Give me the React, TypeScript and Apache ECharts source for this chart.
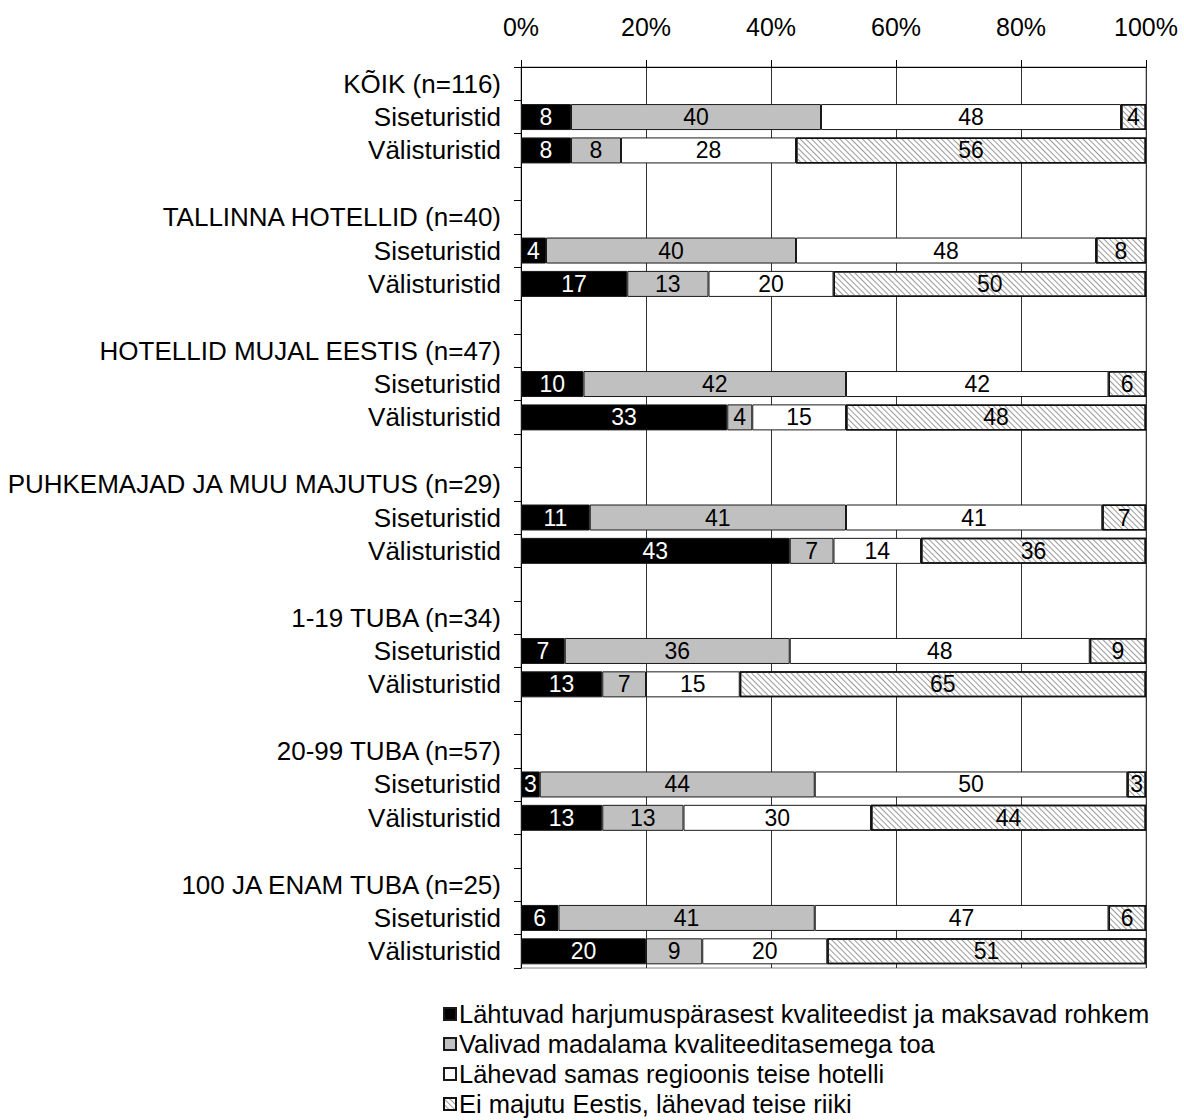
import React, { useEffect, useRef } from "react";
import * as echarts from "echarts";

const categories = [
  "KÕIK (n=116)", "Siseturistid", "Välisturistid", "",
  "TALLINNA HOTELLID (n=40)", "Siseturistid", "Välisturistid", "",
  "HOTELLID MUJAL EESTIS (n=47)", "Siseturistid", "Välisturistid", "",
  "PUHKEMAJAD JA MUU MAJUTUS (n=29)", "Siseturistid", "Välisturistid", "",
  "1-19 TUBA (n=34)", "Siseturistid", "Välisturistid", "",
  "20-99 TUBA (n=57)", "Siseturistid", "Välisturistid", "",
  "100 JA ENAM TUBA (n=25)", "Siseturistid", "Välisturistid",
];

const seriesNames = [
  "Lähtuvad harjumuspärasest kvaliteedist ja maksavad rohkem",
  "Valivad madalama kvaliteeditasemega toa",
  "Lähevad samas regioonis teise hotelli",
  "Ei majutu Eestis, lähevad teise riiki",
];

const N = null;
const rohkem = [N, 8, 8, N, N, 4, 17, N, N, 10, 33, N, N, 11, 43, N, N, 7, 13, N, N, 3, 13, N, N, 6, 20];
const madalam = [N, 40, 8, N, N, 40, 13, N, N, 42, 4, N, N, 41, 7, N, N, 36, 7, N, N, 44, 13, N, N, 41, 9];
const samas = [N, 48, 28, N, N, 48, 20, N, N, 42, 15, N, N, 41, 14, N, N, 48, 15, N, N, 50, 30, N, N, 47, 20];
const valismaa = [N, 4, 56, N, N, 8, 50, N, N, 6, 48, N, N, 7, 36, N, N, 9, 65, N, N, 3, 44, N, N, 6, 51];

const xTicks = [0, 20, 40, 60, 80, 100];

const FONT = "'Liberation Sans', Arial, sans-serif";
const FS = 26;
const BAR_FS = 23;

export default function App() {
  const ref = useRef<HTMLDivElement>(null);
  useEffect(() => {
    const chart = echarts.init(ref.current!, null, { renderer: "svg" });
    const mk = (name: string, data: (number | null)[], color: string, labelColor: string) => ({
      name,
      type: "bar",
      stack: "total",
      data,
      barWidth: 26,
      itemStyle: { color, borderColor: "#1a1a1a", borderWidth: 1 },
      label: {
        show: true,
        position: "inside",
        color: labelColor,
        fontSize: BAR_FS,
        fontFamily: FONT,
        formatter: "{c}",
      },
    });
    chart.setOption({
      animation: false,
      textStyle: { fontFamily: FONT },
      grid: {
        left: 521,
        right: 38,
        top: 67,
        bottom: 152,
        show: true,
        borderColor: "#888",
        borderWidth: 1,
        backgroundColor: "transparent",
      },
      xAxis: {
        type: "value",
        position: "top",
        min: 0,
        max: 100,
        interval: 20,
        axisLine: { show: true, lineStyle: { color: "#000", width: 1 } },
        axisTick: { show: true, length: 7, lineStyle: { color: "#000" } },
        axisLabel: {
          fontSize: 25,
          color: "#000",
          margin: 28,
          fontFamily: FONT,
          formatter: (v: number) => (xTicks.includes(v) ? v + "%" : ""),
        },
        splitLine: { show: true, lineStyle: { color: "#333", width: 1 } },
      },
      yAxis: {
        type: "category",
        inverse: true,
        data: categories,
        axisLine: { show: true, lineStyle: { color: "#000", width: 1 } },
        axisTick: { show: true, length: 7, lineStyle: { color: "#000" } },
        axisLabel: { fontSize: FS, color: "#000", margin: 20, fontFamily: FONT, interval: 0 },
      },
      legend: {
        orient: "vertical",
        left: 443,
        top: 1001,
        height: 160,
        padding: 0,
        itemWidth: 12,
        itemHeight: 12,
        itemGap: 4,
        icon: "rect",
        textStyle: { fontSize: 25.5, color: "#000", fontFamily: FONT, lineHeight: 24, padding: [0, 0, 0, -2] },
        data: seriesNames,
      },
      series: [
        mk(seriesNames[0], rohkem, "#000", "#fff"),
        mk(seriesNames[1], madalam, "#c0c0c0", "#000"),
        mk(seriesNames[2], samas, "#fff", "#000"),
        {
          ...mk(seriesNames[3], valismaa, "#fff", "#000"),
          itemStyle: {
            color: "#fff",
            borderColor: "#111",
            borderWidth: 1.5,
            decal: {
              symbol: "rect",
              symbolSize: 1,
              dashArrayX: [[1, 0]],
              dashArrayY: [1, 3],
              rotation: Math.PI / 4,
              color: "#9a9a9a",
              backgroundColor: null,
            },
          },
        },
      ],
    });
    return () => chart.dispose();
  }, []);
  return <div ref={ref} style={{ position: "absolute", left: 0, top: 0, width: 1184, height: 1120 }} />;
}
